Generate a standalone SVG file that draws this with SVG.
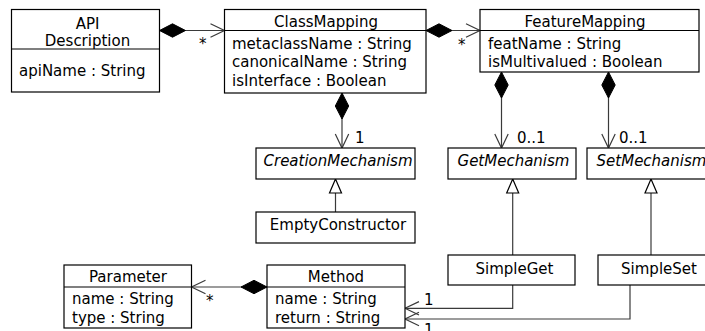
<svg xmlns="http://www.w3.org/2000/svg" width="705" height="331" viewBox="0 0 705 331">
<style>
.box{fill:#fff;stroke:#000;stroke-width:1.2}
.div{stroke:#000;stroke-width:1.2}
.t{font-family:"DejaVu Sans",sans-serif;font-size:15px;fill:#000}
.c{text-anchor:middle}
.i{font-style:italic}
.ln{fill:none;stroke:#3a3a3a;stroke-width:1.2}
.comp{marker-start:url(#diamond);marker-end:url(#open)}
.gen{marker-end:url(#tri)}
.nav{marker-end:url(#open)}
</style>
<defs>
<marker id="diamond" markerUnits="userSpaceOnUse" orient="auto" overflow="visible" markerWidth="1" markerHeight="1">
<path d="M0,0 L13,-6.7 L26,0 L13,6.7 Z" fill="#000" stroke="#000" stroke-width="1"/>
</marker>
<marker id="open" markerUnits="userSpaceOnUse" orient="auto" overflow="visible" markerWidth="1" markerHeight="1">
<path d="M-14,-6.7 L0,0 L-14,6.7" fill="none" stroke="#3a3a3a" stroke-width="1.2"/>
</marker>
<marker id="tri" markerUnits="userSpaceOnUse" orient="auto" overflow="visible" markerWidth="1" markerHeight="1">
<path d="M0,0 L-14,-6 L-14,6 Z" fill="#fff" stroke="#000" stroke-width="1.2"/>
</marker>
</defs>

<g id="connectors">
<path class="ln comp" d="M159.5,30.5 H224.5"/>
<path class="ln comp" d="M426,30.5 H480"/>
<path class="ln comp" d="M342,93 V148"/>
<path class="ln comp" d="M501.5,72 V148"/>
<path class="ln comp" d="M608.5,72 V148"/>
<path class="ln gen" d="M335.5,212 V179"/>
<path class="ln gen" d="M512.7,255 V179"/>
<path class="ln gen" d="M651,255 V179"/>
<path class="ln comp" d="M267,287 H191.5"/>
<path class="ln nav" d="M512.7,285 V308.3 H405"/>
<path class="ln nav" d="M630,285 V319 H405"/>
<text class="t" x="199" y="49">*</text>
<text class="t" x="458" y="50">*</text>
<text class="t" x="355" y="143">1</text>
<text class="t" x="517" y="143">0..1</text>
<text class="t" x="619" y="143">0..1</text>
<text class="t" x="206" y="306">*</text>
<text class="t" x="424" y="305">1</text>
<text class="t" x="424" y="335">1</text>
</g>

<g id="api-description">
<rect class="box" x="11.5" y="9.5" width="148" height="82.5"/>
<line class="div" x1="11.5" y1="49" x2="159.5" y2="49"/>
<text class="t c" x="87.5" y="28.5">API</text>
<text class="t c" x="87.5" y="45.5">Description</text>
<text class="t" x="19" y="76">apiName : String</text>
</g>

<g id="class-mapping">
<rect class="box" x="224.5" y="9.5" width="201.5" height="83.5"/>
<line class="div" x1="224.5" y1="30.5" x2="426" y2="30.5"/>
<text class="t c" x="326" y="27">ClassMapping</text>
<text class="t" x="232" y="49">metaclassName : String</text>
<text class="t" x="232" y="67.3">canonicalName : String</text>
<text class="t" x="232" y="85.6">isInterface : Boolean</text>
</g>

<g id="feature-mapping">
<rect class="box" x="480" y="9.5" width="219" height="62.5"/>
<line class="div" x1="480" y1="30.5" x2="699" y2="30.5"/>
<text class="t c" x="585" y="27">FeatureMapping</text>
<text class="t" x="488" y="48.5">featName : String</text>
<text class="t" x="488" y="66.8">isMultivalued : Boolean</text>
</g>

<g id="creation-mechanism">
<rect class="box" x="256" y="148" width="159" height="31"/>
<text class="t c i" x="338" y="166">CreationMechanism</text>
</g>

<g id="empty-constructor">
<rect class="box" x="256" y="212" width="159" height="31"/>
<text class="t c" x="338" y="230">EmptyConstructor</text>
</g>

<g id="get-mechanism">
<rect class="box" x="448" y="148" width="128" height="31"/>
<text class="t c i" x="513.5" y="166">GetMechanism</text>
</g>

<g id="set-mechanism">
<rect class="box" x="587" y="148" width="130" height="31"/>
<text class="t c i" x="651.5" y="166">SetMechanism</text>
</g>

<g id="simple-get">
<rect class="box" x="448" y="255" width="127" height="30"/>
<text class="t c" x="514.5" y="273.5">SimpleGet</text>
</g>

<g id="simple-set">
<rect class="box" x="598" y="255" width="122" height="30"/>
<text class="t c" x="659" y="273.5">SimpleSet</text>
</g>

<g id="parameter">
<rect class="box" x="64" y="265" width="127.5" height="63"/>
<line class="div" x1="64" y1="287" x2="191.5" y2="287"/>
<text class="t c" x="128" y="282">Parameter</text>
<text class="t" x="72" y="304">name : String</text>
<text class="t" x="72" y="322.5">type : String</text>
</g>

<g id="method">
<rect class="box" x="267" y="265" width="138" height="63"/>
<line class="div" x1="267" y1="287" x2="405" y2="287"/>
<text class="t c" x="336" y="282">Method</text>
<text class="t" x="275" y="304">name : String</text>
<text class="t" x="275" y="322.5">return : String</text>
</g>
</svg>
